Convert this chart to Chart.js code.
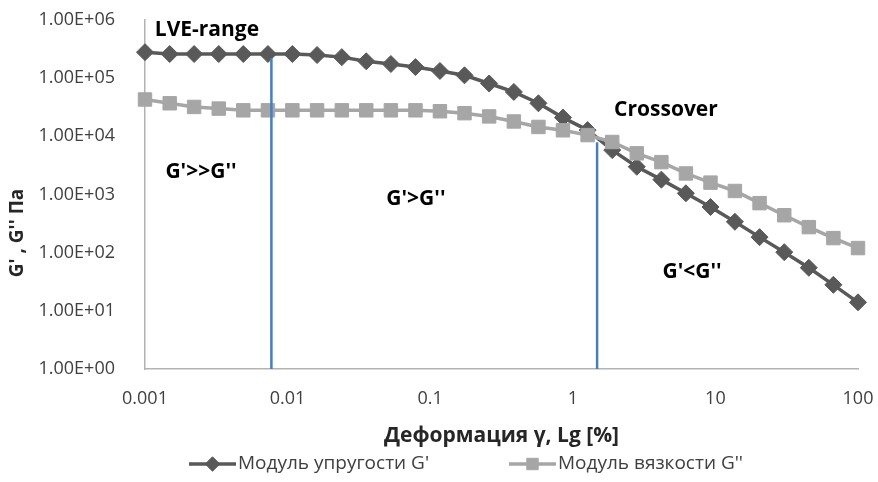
<!DOCTYPE html>
<html lang="ru">
<head>
<meta charset="utf-8">
<title>G', G'' — деформация</title>
<script src="https://cdn.jsdelivr.net/npm/chart.js@4.4.1/dist/chart.umd.min.js"></script>
<style>
  html, body { margin: 0; padding: 0; background: #fff; }
  #wrap { width: 878px; height: 482px; }
</style>
</head>
<body>
<div id="wrap"><canvas id="chart" width="878" height="482"></canvas></div>
<script>
// ════════════════════════════════════════
//  ДАННЫЕ — амплитудный тест (strain sweep)
// ════════════════════════════════════════
const STRAIN = [0.001, 0.00149, 0.00221, 0.00329, 0.00489, 0.00728, 0.0108, 0.0161, 0.0240, 0.0356,
                0.0530, 0.0788, 0.117, 0.174, 0.259, 0.386, 0.574, 0.853, 1.27, 1.89,
                2.81, 4.18, 6.21, 9.24, 13.7, 20.4, 30.4, 45.2, 67.2, 100];

// Модуль упругости G'
const G_STORAGE = [2.8e5, 2.6e5, 2.6e5, 2.6e5, 2.6e5, 2.6e5, 2.6e5, 2.5e5, 2.3e5, 1.95e5,
                   1.75e5, 1.55e5, 1.33e5, 1.12e5, 8.1e4, 5.8e4, 3.7e4, 2.1e4, 1.28e4, 5.8e3,
                   3.0e3, 1.8e3, 1.05e3, 610, 340, 185, 102, 55, 28, 14];

// Модуль вязкости G''
const G_LOSS = [4.3e4, 3.7e4, 3.2e4, 3.0e4, 2.8e4, 2.8e4, 2.8e4, 2.8e4, 2.8e4, 2.8e4,
                2.8e4, 2.8e4, 2.7e4, 2.5e4, 2.2e4, 1.8e4, 1.45e4, 1.27e4, 1.05e4, 8.0e3,
                5.1e3, 3.6e3, 2.3e3, 1.6e3, 1.15e3, 710, 440, 275, 178, 120];

const SERIES_LABELS = ["Модуль упругости G'", "Модуль вязкости G''"];

// Границы областей (вертикальные линии)
const BOUND_X   = [0.0077, 1.48];
const BOUND_TOP = [2.2e5, 7.9e3];

// Подписи областей
const NOTE_TEXT = ['LVE-range', 'Crossover', "G'>>G''", "G'>G''", "G'<G''"];
const NOTE_X    = [0.00272, 4.5, 0.00247, 0.0794, 6.86];
const NOTE_Y    = [6.7e5, 2.8e4, 2.4e3, 830, 46];

// Деления осей
const X_TICKS  = [0.001, 0.01, 0.1, 1, 10, 100];
const X_LABELS = ['0.001', '0.01', '0.1', '1', '10', '100'];
const Y_TICKS  = [1, 10, 100, 1e3, 1e4, 1e5, 1e6];
const Y_LABELS = ['1.00E+00', '1.00E+01', '1.00E+02', '1.00E+03', '1.00E+04', '1.00E+05', '1.00E+06'];

// ── Стиль ───────────────────────────────
const C_DARK  = '#595959';
const C_LIGHT = '#a6a6a6';
const C_BLUE  = '#4a7ebb';
const C_AXIS  = '#b3b3b3';
const C_TEXT  = '#404040';
const FONT    = '"Open Sans", "Liberation Sans", sans-serif';

const toPts = ys => STRAIN.map((s, i) => ({ x: s, y: ys[i] }));

const boundSets = BOUND_X.map((bx, i) => ({
  label: 'bound' + i,
  data: [{ x: bx, y: Y_TICKS[0] }, { x: bx, y: BOUND_TOP[i] }],
  borderColor: C_BLUE,
  borderWidth: 2.5,
  pointRadius: 0,
  order: -1
}));

// ════════════════════════════════════════
//  Подписи, заголовок оси Y и легенда
// ════════════════════════════════════════
const overlay = {
  id: 'overlay',
  afterDraw(chart) {
    const { ctx, scales: { x, y } } = chart;
    ctx.save();

    // подписи областей
    ctx.fillStyle = '#000';
    ctx.font = 'bold 21px ' + FONT;
    ctx.textAlign = 'center';
    ctx.textBaseline = 'middle';
    NOTE_TEXT.forEach((t, i) => {
      ctx.fillText(t, x.getPixelForValue(NOTE_X[i]), y.getPixelForValue(NOTE_Y[i]));
    });

    // заголовок оси Y
    ctx.save();
    ctx.translate(18, 233);
    ctx.rotate(-Math.PI / 2);
    ctx.font = 'bold 19px ' + FONT;
    ctx.fillStyle = '#262626';
    ctx.fillText("G' , G'' Па", 0, 0);
    ctx.restore();

    // легенда
    const ly = 464;
    const items = [
      { x0: 189, ds: chart.data.datasets[0] },
      { x0: 509, ds: chart.data.datasets[1] }
    ];
    ctx.font = '19px ' + FONT;
    ctx.textAlign = 'left';
    items.forEach(({ x0, ds }) => {
      ctx.strokeStyle = ds.borderColor;
      ctx.lineWidth = ds.borderWidth;
      ctx.beginPath();
      ctx.moveTo(x0, ly);
      ctx.lineTo(x0 + 47, ly);
      ctx.stroke();
      ctx.fillStyle = ds.pointBackgroundColor;
      ctx.strokeStyle = ds.pointBorderColor;
      ctx.lineWidth = 1;
      Chart.helpers.drawPoint(ctx, {
        pointStyle: ds.pointStyle, radius: ds.pointRadius * 0.85, borderWidth: 1, rotation: 0
      }, x0 + 23.5, ly);
      ctx.fillStyle = C_TEXT;
      ctx.fillText(ds.label, x0 + 49, ly);
    });

    ctx.restore();
  }
};

new Chart(document.getElementById('chart'), {
  type: 'line',
  data: {
    datasets: [
      {
        label: SERIES_LABELS[0],
        data: toPts(G_STORAGE),
        borderColor: C_DARK,
        borderWidth: 3.5,
        pointStyle: 'rectRot',
        pointRadius: 8.5,
        pointBackgroundColor: C_DARK,
        pointBorderColor: C_DARK,
        pointBorderWidth: 1,
        order: 1
      },
      {
        label: SERIES_LABELS[1],
        data: toPts(G_LOSS),
        borderColor: C_LIGHT,
        borderWidth: 3.5,
        pointStyle: 'rect',
        pointRadius: 9.5,
        pointBackgroundColor: C_LIGHT,
        pointBorderColor: C_LIGHT,
        pointBorderWidth: 1,
        order: 0
      },
      ...boundSets
    ]
  },
  options: {
    responsive: false,
    animation: false,
    clip: false,
    layout: { padding: { top: 20, right: 20, bottom: 30, left: 0 } },
    plugins: {
      legend: { display: false },
      tooltip: { enabled: false }
    },
    scales: {
      x: {
        type: 'logarithmic',
        min: X_TICKS[0],
        max: X_TICKS[X_TICKS.length - 1],
        afterBuildTicks: s => { s.ticks = X_TICKS.map(v => ({ value: v })); },
        afterFit: s => { s.height = 83; s.paddingLeft = 0; s.paddingRight = 0; },
        ticks: {
          color: C_TEXT,
          font: { family: FONT, size: 18 },
          padding: 11,
          maxRotation: 0,
          autoSkip: false,
          callback: v => X_LABELS[X_TICKS.indexOf(v)]
        },
        grid: { display: false },
        border: { display: true, color: C_AXIS, width: 1.5 },
        title: {
          display: true,
          text: 'Деформация γ, Lg [%]',
          color: '#262626',
          font: { family: FONT, size: 21, weight: 'bold' },
          padding: { top: 0, bottom: 3 }
        }
      },
      y: {
        type: 'logarithmic',
        min: Y_TICKS[0],
        max: Y_TICKS[Y_TICKS.length - 1],
        afterBuildTicks: s => { s.ticks = Y_TICKS.map(v => ({ value: v })); },
        afterFit: s => { s.width = 145; s.paddingTop = 0; s.paddingBottom = 0; },
        ticks: {
          color: C_TEXT,
          font: { family: FONT, size: 18 },
          padding: 22,
          autoSkip: false,
          callback: v => Y_LABELS[Y_TICKS.indexOf(v)]
        },
        grid: { display: false },
        border: { display: true, color: C_AXIS, width: 1.5 }
      }
    }
  },
  plugins: [overlay]
});
</script>
</body>
</html>
